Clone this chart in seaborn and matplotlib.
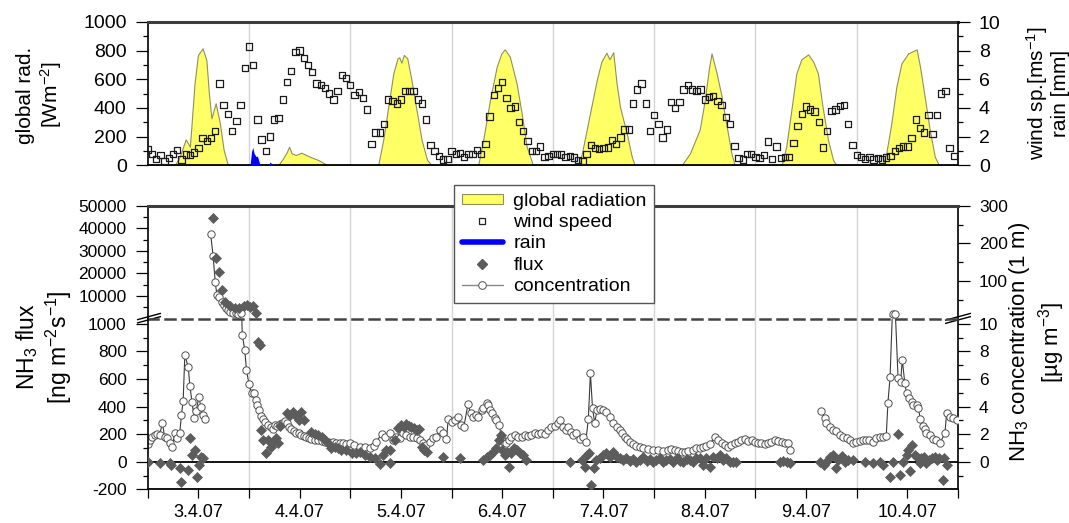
import numpy as np
import matplotlib
matplotlib.use("Agg")
import matplotlib.pyplot as plt
import seaborn as sns
from matplotlib.lines import Line2D
from matplotlib.patches import Patch
from matplotlib.ticker import FixedLocator

# ---------------- data (time in hours since 3.4.07 00:00) ----------------
day_labels = ["3.4.07", "4.4.07", "5.4.07", "6.4.07", "7.4.07", "8.4.07", "9.4.07", "10.4.07"]

# global radiation [W m-2]
rad_hours = [0, 6.4, 7.6, 9.0, 10.0, 11.1, 11.9, 13.0, 13.9, 14.5, 15.1, 16.1, 17.1, 18.0, 19.0,
             30.9, 32.1, 33.0, 33.5, 34.1, 35.1, 36.4, 38.4, 40.4, 42.7,
             54.6, 55.8, 57.0, 58.2, 59.2, 59.6, 60.1, 60.7, 61.5, 62.5, 63.7, 64.9, 66.2, 67.3,
             78.3, 79.5, 81.1, 82.7, 83.8, 84.6, 85.8, 87.4, 88.6, 89.8, 91.3,
             102.3, 103.2, 104.8, 106.4, 107.5, 108.7, 109.4, 110.3, 111.1, 111.9, 113.5, 114.7, 115.4,
             126.5, 128.5, 130.8, 132.0, 133.0, 133.6, 134.8, 136.0, 137.2, 138.3, 139.1,
             150.2, 151.3, 152.5, 153.7, 154.9, 156.5, 157.7, 158.8, 159.9, 161.2, 162.4, 163.2,
             174.1, 175.0, 176.2, 177.4, 178.6, 180.2, 182.2, 183.0, 184.1, 185.3, 186.5, 187.5, 192]
rad_values = [0, 0, 60, 181, 130, 572, 770, 816, 735, 502, 328, 433, 293, 107, 0,
              0, 49, 95, 130, 84, 72, 88, 60, 37, 0,
              0, 177, 409, 642, 747, 754, 716, 770, 747, 595, 384, 177, 37, 0,
              0, 177, 456, 688, 781, 809, 758, 572, 363, 130, 0,
              0, 130, 363, 595, 723, 786, 740, 789, 572, 409, 223, 60, 0,
              0, 84, 250, 456, 680, 781, 642, 479, 270, 84, 0,
              0, 130, 384, 642, 740, 774, 723, 642, 409, 177, 37, 0,
              0, 84, 293, 549, 712, 781, 809, 688, 479, 247, 60, 0, 0]

# rain [mm]
rain_hours = [24.0, 24.25, 24.6, 24.9, 25.2, 25.7, 26.0, 26.5, 26.8, 27.2, 27.4, 27.6,
              28.6, 29.0, 29.4, 29.8, 33.1, 33.4, 33.7]
rain_values = [0, 0, 0.95, 1.25, 0.84, 0.6, 0.65, 0.14, 0, 0, 0.07, 0,
               0, 0.23, 0.1, 0, 0, 0.1, 0]

# wind speed [m s-1], hourly
wind_hours = list(range(192))
wind_values = [1.1, 0.8, 0.45, 0.7, 0.3, 0.5, 0.8, 1.05, 0.4, 0.75, 0.7, 0.9,
               1.2, 1.9, 1.7, 1.9, 2.4, 5.7, 4.2, 3.6, 2.4, 3.1, 4.2, 6.8,
               8.3, 7.0, 3.2, 1.8, 1.0, 2.0, 3.2, 3.3, 4.6, 5.8, 6.6, 7.9,
               8.0, 7.5, 7.0, 6.5, 5.7, 5.6, 5.4, 5.0, 4.6, 5.2, 6.3, 6.1,
               5.6, 4.9, 5.1, 4.7, 3.9, 1.5, 2.3, 2.3, 2.9, 4.6, 4.5, 4.3,
               4.6, 5.2, 5.2, 5.2, 4.6, 4.3, 3.2, 1.4, 1.0, 0.65, 0.4, 0.45,
               1.0, 0.8, 0.85, 0.6, 0.8, 0.8, 1.05, 0.8, 1.5, 3.4, 4.9, 5.4,
               5.8, 4.7, 4.0, 4.1, 3.0, 2.4, 1.7, 1.0, 1.0, 1.3, 0.6, 0.65,
               0.8, 0.8, 0.75, 0.6, 0.65, 0.55, 0.35, 0.3, 0.8, 1.4, 1.2, 1.15,
               1.2, 1.25, 1.75, 1.5, 1.95, 2.5, 2.5, 4.3, 5.3, 5.7, 4.3, 2.4,
               3.5, 2.9, 1.95, 2.5, 4.4, 4.0, 4.4, 5.3, 5.6, 5.3, 5.2, 5.3,
               4.6, 4.75, 4.85, 4.5, 4.2, 3.35, 2.9, 1.35, 0.5, 0.4, 0.8, 0.8,
               0.6, 0.5, 0.7, 1.65, 0.45, 1.3, 0.5, 0.6, 0.6, 1.55, 2.75, 3.6,
               4.1, 3.9, 3.75, 3.0, 1.25, 2.4, 3.8, 3.9, 4.15, 4.2, 2.9, 1.4,
               0.7, 0.6, 0.45, 0.6, 0.4, 0.5, 0.4, 0.55, 0.65, 1.0, 1.2, 1.3,
               1.3, 1.9, 3.2, 2.6, 2.3, 3.5, 2.2, 3.5, 5.0, 5.2, 1.2, 0.65]

# NH3 flux [ng m-2 s-1]
flux_hours_1 = [0.0, 3.0, 5.2, 5.6, 7.6, 8.0, 9.5, 10.1, 10.6, 11.1, 11.7, 12.2, 12.6, 13.0,
                15.5, 16.1, 16.9, 17.7, 18.2, 19.4, 20.6, 21.6, 22.7, 23.5, 24.3, 25.0, 25.6,
                26.1, 26.7, 26.9, 27.3, 28.0, 28.5, 29.1, 29.7, 30.3, 30.8, 31.4, 32.9, 33.6, 34.4,
                35.1, 35.9, 36.4, 37.0, 38.8, 39.6, 40.4, 41.2, 41.9, 42.7, 43.5, 44.3, 45.1, 45.9,
                47.1, 48.3, 49.3]
flux_values_1 = [0, -12, -12, -24, -48, -145, -60, 170, 48, 85, -110, -24, 36, 24,
                 44400, 26700, 20700, 12600, 7400, 5700, 4600, 4600, 5700, 6200, 5300, 5700, 2600,
                 870, 845, 230, 157, 65, 157, 110, 145, 170, 133, 258, 350, 338, 362,
                 330, 300, 362, 300, 217, 200, 193, 181, 157, 133, 97, 109, 97, 85,
                 85, 65, 60]
flux_hours_2 = [50.2, 51.4, 52.6, 53.8, 55.0, 55.8, 56.4, 57.3, 57.5, 58.5, 59.3, 60.1, 60.7, 61.3,
                61.9, 62.5, 63.0, 63.7, 64.3, 64.9, 65.4, 66.2, 70.0, 74.0,
                79.5, 80.3, 81.0, 81.8, 82.6, 83.3, 83.6, 84.0, 84.6, 85.1, 85.6, 86.2, 86.7, 87.4,
                88.1, 88.9, 89.7]
flux_values_2 = [72, 48, 36, 24, -19, 48, 85, 85, -7, 157, 241, 266, 254, 273,
                 258, 249, 241, 229, 234, 109, 85, 72, 36, 24,
                 12, 36, 48, 72, 97, 157, 193, 85, 48, 72, -36, 60, 97, 85,
                 60, 48, 12]
flux_hours_3 = [100.0, 103.0, 103.5, 104.0, 104.6, 105.1, 105.7, 106.3, 107.1, 107.9, 108.7, 109.5,
                110.3, 111.1, 111.9, 112.7, 113.4, 114.2, 115.0, 115.8, 116.6, 117.4, 118.2, 119.0,
                119.7, 120.5, 121.3, 122.1, 122.9, 123.7, 124.5, 125.3, 126.1, 126.9, 127.7, 128.4,
                129.2, 130.0,
                130.8, 131.6, 132.4, 133.2, 134.0, 134.8, 135.5, 136.3, 137.1, 137.9, 138.7, 139.5,
                149.8, 150.6, 151.4, 152.1]
flux_values_3 = [0, 12, -36, 48, 60, -169, -48, 12, 24, 48, 60, 36,
                 72, 36, 24, 12, 24, 7, 17, 0, 12, 31, 7, 17,
                 0, 12, 24, 0, 12, 17, 0, 24, 7, 0, 17, 12,
                 0, 24,
                 24, -24, 24, -36, 36, 24, 48, 12, 24, 0, 0, 0,
                 0, 7, 0, -7]
flux_hours_4 = [159.2, 160.2, 160.8, 161.6, 162.4, 163.0, 163.6, 164.4, 165.2, 166.0, 167.1, 169.9,
                171.8, 173.5, 174.2, 175.8, 176.6, 177.8, 178.2, 179.0, 179.8, 180.2, 180.7, 181.2,
                181.8, 182.3, 182.9, 183.3, 183.9, 184.5, 185.1, 185.9, 186.5, 187.0, 187.6, 188.5,
                188.8, 189.4]
flux_values_4 = [0, -24, 0, 31, 48, -48, 12, 41, 0, 12, 12, 0,
                 -12, 0, -24, -109, 0, 200, -97, 0, 48, 85, -65, 121,
                 48, 36, -12, 24, 36, -12, 12, 24, 36, 12, 24, -133,
                 24, -24]

# NH3 concentration at 1 m [ug m-3]
conc_hours_1 = [0.0, 0.5, 1.1, 1.7, 2.2, 2.8, 3.5, 4.0, 4.6, 5.2,
                5.8, 6.4, 7.0, 7.6, 8.0, 8.4, 8.8, 9.6, 10.0, 10.5,
                11.0, 11.5, 12.1, 12.6, 13.0, 13.5]
conc_values_1 = [1.28, 1.57, 1.8, 1.94, 2.0, 1.94, 2.8, 1.8, 1.7, 1.33,
                 1.09, 2.1, 1.7, 2.1, 3.4, 4.4, 7.75, 6.85, 5.5, 4.3,
                 3.2, 3.7, 4.7, 4.0, 3.4, 3.1]
conc_hours_2 = [14.9, 15.5, 16.0, 16.4, 16.9, 17.5, 18.0, 18.5, 19.0, 19.6,
                20.2, 20.9, 21.4, 22.0, 22.4, 23.0, 23.4, 24.0, 24.6, 25.1,
                25.6, 25.9, 26.4, 26.9, 27.3, 27.9, 28.5, 29.1, 29.7, 30.1,
                30.6, 31.3, 31.9, 32.5, 33.0, 33.5, 34.0, 34.6, 35.2, 35.9,
                36.4, 37.0, 37.6, 38.2, 38.8, 39.6, 40.4, 41.2, 41.9, 42.7,
                43.9, 44.7, 45.5, 46.3, 47.1, 47.9]
conc_values_2 = [226, 166, 97, 62, 56, 45, 36, 27, 23, 18,
                 15.5, 14, 13, 14, 9.2, 8.1, 6.66, 5.6, 5.0, 5.0,
                 4.5, 4.1, 3.75, 3.3, 3.1, 2.9, 2.65, 2.5, 2.4, 2.65,
                 2.6, 2.7, 2.8, 2.95, 2.8, 2.5, 2.35, 2.25, 2.1, 2.05,
                 1.94, 1.85, 1.77, 1.7, 1.65, 1.57, 1.57, 1.5, 1.45, 1.45,
                 1.45, 1.38, 1.38, 1.33, 1.28, 1.33]
conc_hours_3 = [49.0, 50.2, 51.4, 52.6, 53.6, 54.2, 55.4, 56.2, 57.3, 58.1,
                58.9, 59.7, 60.5, 61.3, 62.1, 62.9, 63.7, 64.5, 65.2, 66.0,
                66.8, 67.6, 68.4, 69.2, 70.0, 70.8, 71.2, 72.0, 72.8, 73.5,
                74.3, 74.9, 75.9, 76.5, 77.1, 77.7, 78.3, 79.1, 79.5, 80.3,
                80.6, 81.0, 81.7, 82.2, 82.6, 83.3, 83.8, 84.4, 85.0, 85.6,
                86.2, 87.0, 87.8, 88.6, 89.4, 90.1, 90.9, 91.7, 92.5, 93.3,
                94.1, 94.9, 95.6, 96.4, 97.2, 97.6, 98.4, 99.1, 99.6]
conc_values_3 = [1.21, 1.09, 1.04, 0.97, 1.14, 1.45, 2.0, 1.82, 2.1, 1.57,
                 1.82, 1.7, 2.06, 1.94, 1.82, 1.82, 1.7, 1.57, 1.33, 1.21,
                 1.45, 1.7, 1.82, 2.3, 2.1, 1.62, 3.07, 2.9, 3.03, 3.22,
                 2.66, 2.5, 4.19, 3.51, 3.27, 3.39, 3.22, 3.75, 3.87, 4.24,
                 4.12, 3.75, 3.51, 3.15, 3.03, 2.66, 1.77, 1.45, 1.33, 1.57,
                 1.77, 1.94, 1.82, 1.82, 1.94, 1.86, 1.94, 2.06, 2.0, 2.06,
                 2.0, 2.3, 2.5, 2.6, 2.78, 3.03, 2.5, 2.3, 2.54]
conc_hours_4 = [100.2, 100.8, 101.6, 102.4, 103.2, 103.8, 104.4, 104.9, 105.4, 105.9,
                106.5, 107.1, 107.9, 108.7, 109.5, 110.3, 111.1, 111.9, 112.5, 113.0,
                113.6, 114.2, 115.0, 115.8, 116.6, 117.4, 118.6, 119.7, 120.9, 122.1,
                123.3, 124.1, 124.9, 125.7, 126.5, 127.3, 128.0, 129.2, 130.0, 130.8,
                131.6, 132.4, 133.2, 134.4, 135.2, 136.0, 136.7, 137.5, 138.3, 139.1,
                139.9, 140.7, 141.5, 142.3, 143.1, 143.9, 144.6, 145.4, 146.2, 147.0,
                147.8, 148.6, 149.4, 150.2, 151.0, 151.7, 152.1]
conc_values_4 = [2.18, 1.94, 2.06, 1.62, 1.77, 1.45, 3.07, 6.42, 3.87, 2.83,
                 3.75, 3.8, 3.75, 3.63, 3.22, 2.83, 2.54, 2.3, 2.06, 1.82,
                 1.62, 1.45, 1.28, 1.14, 1.04, 0.97, 0.9, 0.85, 0.85, 0.8,
                 0.85, 0.9, 0.85, 0.8, 0.73, 0.73, 0.8, 0.85, 0.97, 0.97,
                 1.09, 1.14, 1.28, 1.82, 1.57, 1.38, 1.21, 1.09, 1.21, 1.33,
                 1.45, 1.57, 1.62, 1.53, 1.57, 1.45, 1.38, 1.33, 1.28, 1.33,
                 1.45, 1.57, 1.53, 1.45, 1.38, 1.33, 0.85]
conc_hours_5 = [159.6, 160.4, 160.8, 161.6, 162.4, 163.2, 164.0, 164.8, 165.6, 166.3,
                167.1, 167.9, 168.7, 169.5, 170.3, 171.0, 171.8, 172.6, 173.4, 174.2,
                175.0, 175.4, 175.9, 176.5, 177.1, 177.8, 178.4, 178.8, 179.4, 179.8,
                180.4, 181.0, 181.4, 182.2, 182.6, 183.1, 183.8, 184.1, 184.5, 185.3,
                186.1, 186.9, 187.7, 188.9, 189.3, 190.1, 190.9, 191.7]
conc_values_5 = [3.7, 3.15, 2.78, 2.5, 2.3, 2.25, 1.94, 1.77, 1.7, 1.57,
                 1.38, 1.45, 1.53, 1.57, 1.57, 1.57, 1.45, 1.7, 1.82, 1.82,
                 1.86, 4.29, 6.13, 11.2, 11.2, 6.05, 5.81, 7.38, 5.69, 4.96,
                 4.6, 4.36, 4.12, 4.12, 3.87, 3.07, 2.59, 2.35, 2.1, 1.94,
                 1.62, 1.57, 1.33, 2.06, 3.51, 3.27, 3.15, 3.03]

# ---------------- assemble ----------------
nan = np.nan
flux_h = np.array(flux_hours_1 + flux_hours_2 + flux_hours_3 + flux_hours_4, float)
flux_v = np.array(flux_values_1 + flux_values_2 + flux_values_3 + flux_values_4, float)
conc_h = np.array(conc_hours_1 + [nan] + conc_hours_2 + conc_hours_3 + conc_hours_4 + [nan] + conc_hours_5, float)
conc_v = np.array(conc_values_1 + [nan] + conc_values_2 + conc_values_3 + conc_values_4 + [nan] + conc_values_5, float)

# ---------------- style ----------------
sns.set_theme(style="ticks")
plt.rcParams["font.family"] = ["Liberation Sans", "DejaVu Sans"]
plt.rcParams["mathtext.fontset"] = "custom"
plt.rcParams["mathtext.rm"] = "Liberation Sans"
plt.rcParams["mathtext.it"] = "Liberation Sans:italic"
plt.rcParams["mathtext.bf"] = "Liberation Sans:bold"
plt.rcParams["mathtext.default"] = "regular"
plt.rcParams["axes.unicode_minus"] = False
for k in ["text.color", "axes.labelcolor", "xtick.color", "ytick.color", "xtick.labelcolor", "ytick.labelcolor"]:
    plt.rcParams[k] = "black"

W, H = 1069, 523
fig = plt.figure(figsize=(W / 100, H / 100), dpi=100)
L, R = 147.7, 958.0


def rect(top, bottom):
    return [L / W, 1 - bottom / H, (R - L) / W, (bottom - top) / H]


Y_BREAK_PX = 318.5
ax_top = fig.add_axes(rect(22, 165.3))
ax_wind = ax_top.twinx()
ax_up = fig.add_axes(rect(205.7, Y_BREAK_PX))
ax_upc = ax_up.twinx()
ax_lo = fig.add_axes(rect(Y_BREAK_PX, 489.3))
ax_loc = ax_lo.twinx()

# layering: concentration below flux
for base, twin in [(ax_up, ax_upc), (ax_lo, ax_loc)]:
    twin.set_zorder(1)
    base.set_zorder(2)
    base.patch.set_visible(False)
    twin.patch.set_visible(True)
    twin.patch.set_facecolor("white")

XMAX = 192
for a in [ax_top, ax_wind, ax_up, ax_upc, ax_lo, ax_loc]:
    a.set_xlim(0, XMAX)

FLUX_TOP = 1038
CONC_TOP = FLUX_TOP / 100.0
ax_top.set_ylim(0, 1000)
ax_wind.set_ylim(0, 10)
ax_up.set_ylim(0, 50000)
ax_upc.set_ylim(0, 300)
ax_lo.set_ylim(-200, FLUX_TOP)
ax_loc.set_ylim(-2, CONC_TOP)

GRID = "#d4d4d4"
midnights = [24 * k for k in range(1, 8)]
for a in [ax_top, ax_upc, ax_loc]:
    for m in midnights:
        a.axvline(m, color=GRID, lw=1.0, zorder=0)

# ---------------- top panel ----------------
ax_top.fill_between(rad_hours, rad_values, color="#ffff66", edgecolor="#8f8f60", lw=0.8, zorder=2)
ax_wind.fill_between(rain_hours, rain_values, color="#0000ff", lw=0, zorder=2)
sns.scatterplot(x=wind_hours, y=wind_values, ax=ax_wind, marker="s", s=21,
                facecolor="none", edgecolor="#1a1a1a", linewidth=0.9, zorder=3)

# ---------------- bottom panel ----------------
LINE_C = "#3a3a3a"
EDGE_C = "#505050"
FLUX_C = "#5c5c5c"

up_mask = np.nan_to_num(conc_v, nan=-1) >= CONC_TOP
nb_mask = up_mask | np.r_[up_mask[1:], False] | np.r_[False, up_mask[:-1]]
conc_up_line = np.where(nb_mask, conc_v, np.nan)
ax_upc.plot(conc_h, conc_up_line, color=LINE_C, lw=0.8, zorder=2)
sns.scatterplot(x=conc_h[up_mask], y=conc_v[up_mask], ax=ax_upc, marker="o", s=28,
                facecolor="white", edgecolor=EDGE_C, linewidth=0.7, zorder=3)

lo_mask = np.nan_to_num(conc_v, nan=1e9) < CONC_TOP
ax_loc.plot(conc_h, conc_v, color=LINE_C, lw=0.8, zorder=2)
sns.scatterplot(x=conc_h[lo_mask], y=conc_v[lo_mask], ax=ax_loc, marker="o", s=28,
                facecolor="white", edgecolor=EDGE_C, linewidth=0.7, zorder=3)

fup = flux_v >= FLUX_TOP
sns.scatterplot(x=flux_h[fup], y=flux_v[fup], ax=ax_up, marker="D", s=26,
                color=FLUX_C, edgecolor=FLUX_C, linewidth=0.5, zorder=4)
sns.scatterplot(x=flux_h[~fup], y=flux_v[~fup], ax=ax_lo, marker="D", s=26,
                color=FLUX_C, edgecolor=FLUX_C, linewidth=0.5, zorder=4)
ax_lo.axhline(0, color="black", lw=1.3, zorder=1.5)

for a in [ax_wind, ax_upc, ax_loc, ax_up, ax_lo, ax_top]:
    a.set_xlabel("")
    a.set_ylabel("")

# ---------------- spines ----------------
TOPC = "#3d3d3d"
for base, twin in [(ax_top, ax_wind), (ax_up, ax_upc), (ax_lo, ax_loc)]:
    for s in ["top", "bottom", "left"]:
        twin.spines[s].set_visible(False)
    base.spines["right"].set_visible(False)
    twin.spines["right"].set_color("black")
    twin.spines["right"].set_linewidth(1.2)
    base.spines["left"].set_color("black")
    base.spines["left"].set_linewidth(1.2)
    base.spines["top"].set_color(TOPC)
    base.spines["top"].set_linewidth(2.2)
    base.spines["bottom"].set_color("black")
    base.spines["bottom"].set_linewidth(1.3)

ax_lo.spines["top"].set_visible(False)
ax_up.spines["bottom"].set_color("#444444")
ax_up.spines["bottom"].set_linewidth(1.8)
ax_up.spines["bottom"].set_linestyle((0, (4.0, 2.8)))

# ---------------- ticks ----------------
def yticks(ax, major, minor, size):
    ax.yaxis.set_major_locator(FixedLocator(major))
    ax.yaxis.set_minor_locator(FixedLocator(minor))
    ax.tick_params(axis="y", which="major", length=8.6, width=0.9, pad=6.5,
                   labelsize=size, color="black", labelcolor="black")
    ax.tick_params(axis="y", which="minor", length=3.6, width=0.9, color="black")


yticks(ax_top, [0, 200, 400, 600, 800, 1000], [100, 300, 500, 700, 900], 14)
yticks(ax_wind, [0, 2, 4, 6, 8, 10], [1, 3, 5, 7, 9], 14)
yticks(ax_up, [10000, 20000, 30000, 40000, 50000], [5000, 15000, 25000, 35000, 45000], 12.5)
yticks(ax_upc, [100, 200, 300], [50, 150, 250], 12.5)
yticks(ax_lo, [-200, 0, 200, 400, 600, 800, 1000], [-100, 100, 300, 500, 700, 900], 12.5)
yticks(ax_loc, [0, 2, 4, 6, 8, 10], [-1, 1, 3, 5, 7, 9], 12.5)

for a in [ax_top, ax_up]:
    a.tick_params(axis="x", which="both", bottom=False, labelbottom=False, top=False)

noons = [12 + 24 * k for k in range(len(day_labels))]
ax_lo.xaxis.set_major_locator(FixedLocator(noons))
ax_lo.set_xticklabels(day_labels)
ax_lo.xaxis.set_minor_locator(FixedLocator([24 * k for k in range(9)]))
ax_lo.tick_params(axis="x", which="both", length=6.5, width=0.9, color="black", top=False)
ax_lo.tick_params(axis="x", which="major", labelsize=13, pad=4)

# ---------------- axis break marks ----------------
def fig_line(x0, y0, x1, y1):
    fig.add_artist(Line2D([x0 / W, x1 / W], [1 - y0 / H, 1 - y1 / H], transform=fig.transFigure,
                          color="black", lw=1.0, solid_capstyle="butt"))


for dy in (0, -3.2):
    fig_line(137, 323.0 + dy, 161, 316.5 + dy)
    fig_line(945, 323.5 + dy, 971, 316.5 + dy)

# ---------------- labels ----------------
fig.text(40 / W, 1 - 95 / H, "global rad.\n[Wm$^{-2}$]", rotation=90, ha="center", va="center",
         fontsize=15, multialignment="center", linespacing=1.15)
fig.text(1047 / W, 1 - 93 / H, "wind sp.[ms$^{-1}$]\nrain [mm]", rotation=90, ha="center",
         va="center", fontsize=15, multialignment="center", linespacing=1.1)
fig.text(44 / W, 1 - 347 / H, "NH$_3$ flux\n[ng m$^{-2}$s$^{-1}$]", rotation=90, ha="center",
         va="center", fontsize=16.5, multialignment="center", linespacing=1.15)
fig.text(1037 / W, 1 - 342 / H, "NH$_3$ concentration (1 m)\n[µg m$^{-3}$]", rotation=90,
         ha="center", va="center", fontsize=16, multialignment="center", linespacing=1.15)

# ---------------- legend ----------------
handles = [
    Patch(facecolor="#ffff66", edgecolor="#8f8f60", lw=0.8),
    Line2D([], [], ls="none", marker="s", ms=5, mfc="white", mec="#222222", mew=0.9),
    Line2D([], [], color="#0000ff", lw=4),
    Line2D([], [], ls="none", marker="D", ms=5, mfc=FLUX_C, mec=FLUX_C),
    Line2D([], [], color="#888888", lw=1.0, marker="o", ms=5.5, mfc="white", mec=EDGE_C, mew=0.7),
]
labels = ["global radiation", "wind speed", "rain", "flux", "concentration"]
leg = fig.legend(handles, labels, loc="upper left", bbox_to_anchor=(454 / W, 1 - 185 / H),
                 bbox_transform=fig.transFigure, fontsize=14, frameon=True, fancybox=False,
                 edgecolor="#555555", framealpha=1, borderpad=0.4, labelspacing=0.22,
                 handlelength=2.1, handletextpad=0.55, handleheight=0.45, borderaxespad=0)
leg.get_frame().set_linewidth(1.0)
leg.set_zorder(10)

fig.savefig("out.png", dpi=100)
